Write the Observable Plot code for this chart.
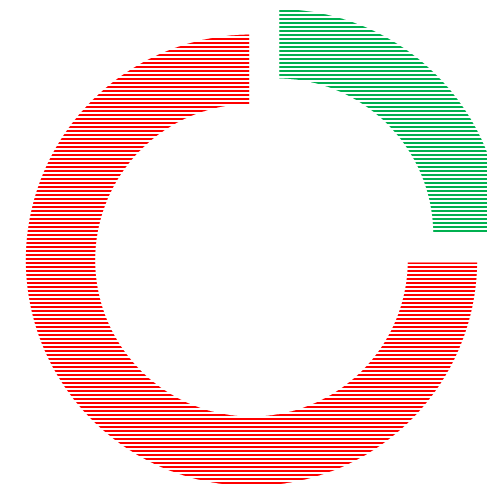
<!DOCTYPE html>
<html>
<head>
<meta charset="utf-8">
<script src="https://cdn.jsdelivr.net/npm/d3@7"></script>
<script src="https://cdn.jsdelivr.net/npm/@observablehq/plot@0.6"></script>
<style>
  html, body { margin: 0; padding: 0; background: #fff; }
  #chart svg { display: block; }
</style>
</head>
<body>
<div id="chart"></div>
<script>
// Data
const categories = ["Category 1", "Category 2"];
const values = [25, 75];
const colors = ["#00B050", "#FF0000"];
const explode = [36, 0];

// Geometry
const W = 487, H = 484;
const cx = 251, cy = 259.7;
const rOuter = 228, rInner = 154;

const arcs = d3.pie().sort(null).value(d => d.value)(
  categories.map((c, i) => ({category: c, value: values[i], explode: explode[i]}))
);

const pts = [];
arcs.forEach(a => {
  const mid = (a.startAngle + a.endAngle) / 2;
  const ox = a.data.explode * Math.sin(mid), oy = -a.data.explode * Math.cos(mid);
  const n = Math.max(2, Math.ceil((a.endAngle - a.startAngle) / (Math.PI / 360)));
  const ring = [];
  for (let k = 0; k <= n; k++) {
    const t = a.startAngle + (a.endAngle - a.startAngle) * k / n;
    ring.push({category: a.data.category, x: cx + ox + rOuter * Math.sin(t), y: cy + oy - rOuter * Math.cos(t)});
  }
  for (let k = n; k >= 0; k--) {
    const t = a.startAngle + (a.endAngle - a.startAngle) * k / n;
    ring.push({category: a.data.category, x: cx + ox + rInner * Math.sin(t), y: cy + oy - rInner * Math.cos(t)});
  }
  pts.push(...ring);
});

const patternIds = categories.map((c, i) => "hatch-" + i);

const chart = Plot.plot({
  width: W,
  height: H,
  margin: 0,
  x: {domain: [0, W], range: [0, W], axis: null},
  y: {domain: [0, H], range: [0, H], axis: null},
  color: {type: "ordinal", domain: categories, range: patternIds.map(id => `url(#${id})`)},
  style: {background: "#fff"},
  marks: [
    Plot.line(pts, {
      x: "x", y: "y", z: "category",
      fill: "category",
      stroke: "#fff",
      strokeWidth: 4.6,
      curve: "linear-closed"
    })
  ]
});

// Hatch patterns (horizontal lines); offset compensates Plot's 0.5px mark translation
const svg = d3.select(chart);
const defs = svg.insert("defs", ":first-child");
categories.forEach((c, i) => {
  const p = defs.append("pattern")
    .attr("id", patternIds[i])
    .attr("patternUnits", "userSpaceOnUse")
    .attr("x", -0.5).attr("y", -0.5)
    .attr("width", 4).attr("height", 4);
  p.append("rect").attr("x", 0).attr("y", 0).attr("width", 4).attr("height", 4).attr("fill", "#fff");
  p.append("rect").attr("x", 0).attr("y", 2).attr("width", 4).attr("height", 2).attr("fill", colors[i]);
});

document.getElementById("chart").appendChild(chart);
</script>
</body>
</html>
